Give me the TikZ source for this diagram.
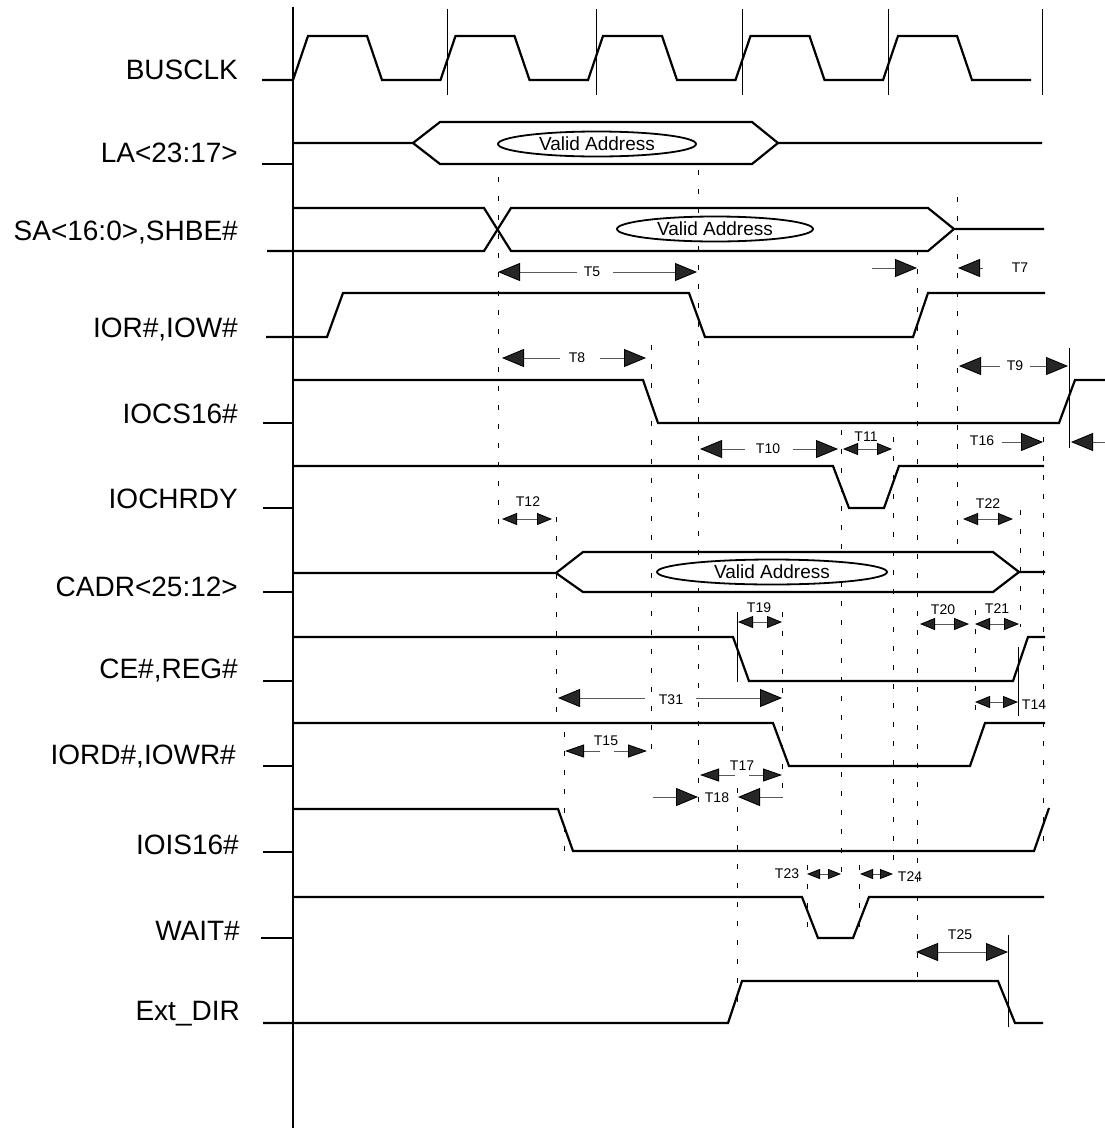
\documentclass[tikz,border=0pt]{standalone}
\usepackage{fontspec}
\setmainfont{Liberation Sans}
\usetikzlibrary{arrows.meta,shapes.geometric}

\begin{document}
\begin{tikzpicture}[x=1pt, y=-1pt,
        sig/.style={line width=2.2pt},
        guide/.style={line width=0.9pt, dash pattern=on 5pt off 14pt},
        vline/.style={line width=0.9pt},
        signame/.style={anchor=east, inner sep=0pt, font=\fontsize{28}{30}\selectfont},
        tlab/.style={inner sep=0pt, font=\fontsize{14}{16}\selectfont},
        addr/.style={ellipse, draw, fill=white, line width=1.8pt, inner sep=0pt, minimum height=25pt, font=\fontsize{19}{21}\selectfont},
        bigdim/.style={line width=0.9pt, draw=black!65, >={Triangle[length=22pt,width=18pt,color=black,fill=black!85]}},
        middim/.style={line width=0.9pt, draw=black!65, >={Triangle[length=19pt,width=13pt,color=black,fill=black!85]}},
        smalldim/.style={line width=0.9pt, draw=black!65, >={Triangle[length=15pt,width=12pt,color=black,fill=black!85]}},
        tinydim/.style={line width=0.9pt, draw=black!65, >={Triangle[length=13pt,width=10pt,color=black,fill=black!85]}}]
        \useasboundingbox (0,0) rectangle (1105,1138);

        \node[signame] (busclk) at (238,70) {BUSCLK};
        \node[signame] (la) at (238,153) {LA<23:17>};
        \node[signame] (sa) at (238,233) {SA<16:0>,SHBE\#};
        \node[signame] (ior) at (238,330) {IOR\#,IOW\#};
        \node[signame] (iocs) at (238,414) {IOCS16\#};
        \node[signame] (iochrdy) at (238,499) {IOCHRDY};
        \node[signame] (cadr) at (238,587) {CADR<25:12>};
        \node[signame] (ce) at (238,671) {CE\#,REG\#};
        \node[signame] (iord) at (236,757) {IORD\#,IOWR\#};
        \node[signame] (iois) at (239,845) {IOIS16\#};
        \node[signame] (wait) at (240,931) {WAIT\#};
        \node[signame] (extdir) at (240,1014) {Ext\_DIR};

        \draw[line width=2pt] (293,7) -- (293,1128);

        \foreach \x/\a/\b in {498/177/530, 698/170/815, 651/345/757, 556/517/713, 564/732/851, 957/197/547, 917/250/980, 841/430/873, 893/437/873, 1043/437/852, 1020/510/627, 975/610/715, 782/612/800, 737/788/1007, 807/865/927, 859/865/927}
            \draw[guide] (\x,\a) -- (\x,\b);
        \foreach \x in {447,596,742,888,1042}
            \draw[vline] (\x,9) -- (\x,95);
        \foreach \x/\a/\b in {737/612/682, 1018/647/716, 1069/348/448, 1008/935/1027}
            \draw[vline] (\x,\a) -- (\x,\b);

        \draw[sig] (262,80) foreach \i in {0,...,4} { -- ({293+147.5*\i},80) -- ++(15,-44) -- ++(59,0) -- ++(15,44) } -- (1031,80);

        \draw[sig] (262,164) -- (293,164);
        \draw[sig] (293,143) -- (413,143) -- (440,122) -- (752,122) -- (778,143) -- (1042,143);
        \draw[sig] (413,143) -- (440,164) -- (752,164) -- (778,143);
        \node[addr, minimum width=198pt] (laaddr) at (597,144) {Valid Address};

        \draw[sig] (267,251) -- (484,251) -- (511,208) -- (928,208) -- (954,229) -- (1044,229);
        \draw[sig] (293,208) -- (484,208) -- (511,251) -- (928,251) -- (954,229);
        \node[addr, minimum width=196pt] (saaddr) at (715,229) {Valid Address};

        \draw[sig] (266,337) -- (327,337) -- (343,293) -- (689,293) -- (705,337) -- (913,337) -- (928,293) -- (1045,293);

        \draw[sig] (263,423) -- (293,423);
        \draw[sig] (293,380) -- (643,380) -- (658,423) -- (1059,423) -- (1075,380) -- (1105,380);

        \draw[sig] (263,508) -- (293,508);
        \draw[sig] (293,466) -- (833,466) -- (849,508) -- (884,508) -- (899,466) -- (1044,466);

        \draw[sig] (263,592) -- (293,592);
        \draw[sig] (293,573) -- (556,573) -- (583,552) -- (993,552) -- (1019,572) -- (1045,572);
        \draw[sig] (556,573) -- (583,592) -- (993,592) -- (1019,572);
        \node[addr, minimum width=230pt] (cadraddr) at (772,572) {Valid Address};

        \draw[sig] (263,681) -- (293,681);
        \draw[sig] (293,637) -- (733,637) -- (749,681) -- (1013,681) -- (1028,637) -- (1045,637);

        \draw[sig] (263,766) -- (293,766);
        \draw[sig] (293,723) -- (773,723) -- (789,766) -- (970,766) -- (985,723) -- (1045,723);

        \draw[sig] (263,852) -- (293,852);
        \draw[sig] (293,809) -- (558,809) -- (573,851) -- (1034,851) -- (1049,808);

        \draw[sig] (261,938) -- (293,938);
        \draw[sig] (293,897) -- (802,897) -- (818,938) -- (853,938) -- (869,897) -- (1044,897);

        \draw[sig] (263,1023) -- (728,1023) -- (742,981) -- (998,981) -- (1015,1023) -- (1043,1023);

        \node[tlab] (t5) at (592,272) {T5};
        \draw[bigdim,->] (577,272) -- (498,272);
        \draw[bigdim,->] (613,272) -- (697,272);
        \draw[bigdim,->] (872,268) -- (917,268);
        \node[tlab] (t7) at (1020,268) {T7};
        \draw[bigdim,->] (983,268) -- (958,268);
        \node[tlab] (t8) at (577,358) {T8};
        \draw[bigdim,->] (560,358) -- (502,358);
        \draw[bigdim,->] (600,358) -- (646,358);
        \node[tlab] (t9) at (1015,366) {T9};
        \draw[bigdim,->] (1000,366) -- (959,366);
        \draw[bigdim,->] (1030,366) -- (1068,366);
        \node[tlab] (t16) at (982,441) {T16};
        \draw[bigdim,->] (1002,442) -- (1043,442);
        \draw[bigdim,->] (1105,442) -- (1071,442);
        \node[tlab] (t10) at (768,449) {T10};
        \draw[bigdim,->] (745,449) -- (700,449);
        \draw[bigdim,->] (793,449) -- (838,449);
        \node[tlab] (t11) at (866,437) {T11};
        \draw[smalldim,<->] (843,449) -- (892,449);
        \node[tlab] (t12) at (528,502) {T12};
        \draw[smalldim,<->] (502,519) -- (552,519);
        \node[tlab] (t22) at (988,504) {T22};
        \draw[smalldim,<->] (963,519) -- (1013,519);
        \node[tlab] (t19) at (759,608) {T19};
        \draw[smalldim,<->] (738,622) -- (782,622);
        \node[tlab] (t20) at (943,610) {T20};
        \draw[smalldim,<->] (920,624) -- (969,624);
        \node[tlab] (t21) at (997,609) {T21};
        \draw[smalldim,<->] (975,624) -- (1019,624);
        \node[tlab] (t31) at (671,700) {T31};
        \draw[bigdim,->] (645,698) -- (558,698);
        \draw[bigdim,->] (696,698) -- (782,698);
        \node[tlab] (t14) at (1034,705) {T14};
        \draw[smalldim,<->] (975,702) -- (1018,702);
        \node[tlab] (t15) at (606,741) {T15};
        \draw[middim,->] (600,751) -- (565,751);
        \draw[middim,->] (614,751) -- (647,751);
        \node[tlab] (t17) at (742,766) {T17};
        \draw[middim,->] (735,775) -- (700,775);
        \draw[middim,->] (749,775) -- (782,775);
        \node[tlab] (t18) at (717,798) {T18};
        \draw[bigdim,->] (653,797) -- (698,797);
        \draw[bigdim,->] (783,797) -- (738,797);
        \node[tlab] (t23) at (787,874) {T23};
        \draw[tinydim,<->] (807,874) -- (841,874);
        \node[tlab] (t24) at (910,877) {T24};
        \draw[tinydim,<->] (860,874) -- (893,874);
        \node[tlab] (t25) at (960,935) {T25};
        \draw[bigdim,<->] (916,952) -- (1008,952);
    \end{tikzpicture}
\end{document}
